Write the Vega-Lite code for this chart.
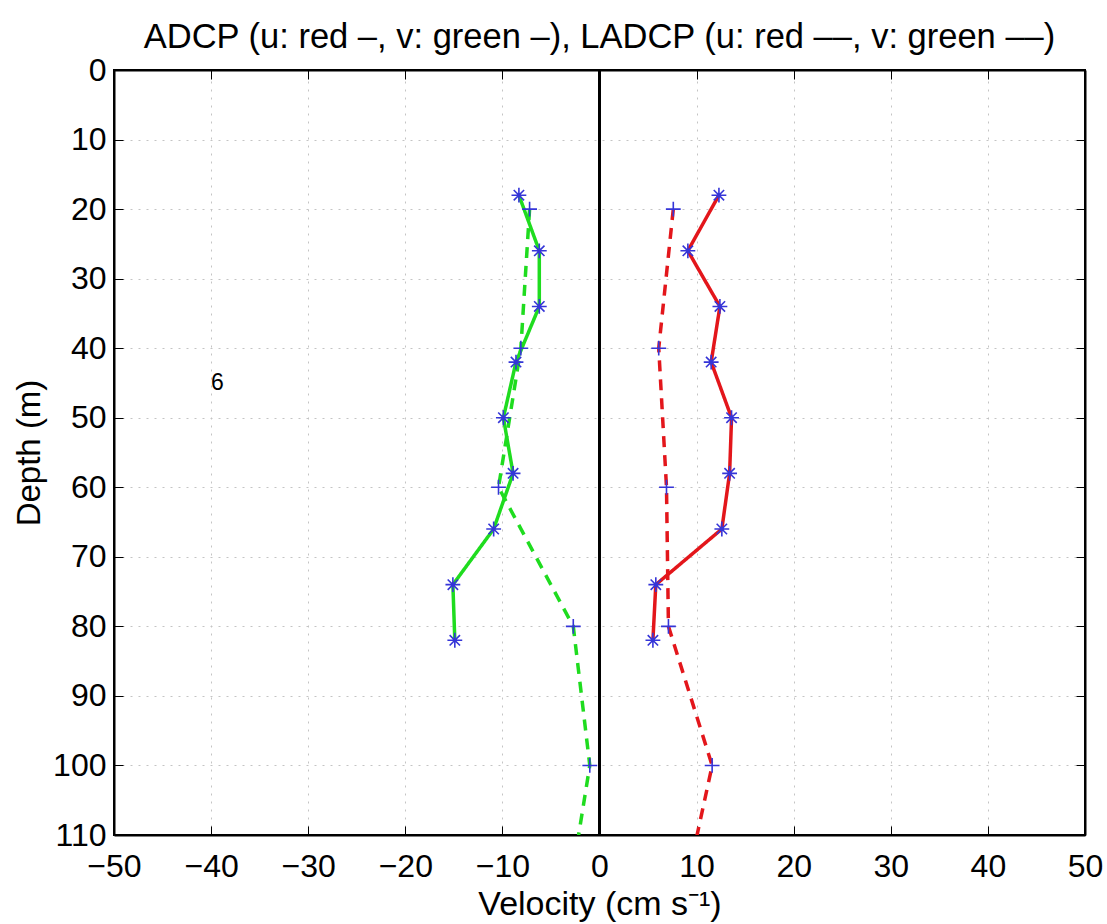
{
  "$schema": "https://vega.github.io/schema/vega-lite/v6.json",
  "autosize": "none",
  "width": 971,
  "height": 765,
  "padding": {"left": 114, "top": 70, "right": 22, "bottom": 89},
  "background": "white",
  "config": {
    "font": "Liberation Sans",
    "view": {"stroke": "black", "strokeWidth": 2},
    "axis": {
      "domain": true, "domainColor": "black", "domainWidth": 2,
      "tickColor": "black", "tickSize": -9, "tickWidth": 1,
      "labelFont": "Liberation Sans", "labelFontSize": 32, "labelColor": "black",
      "titleFont": "Liberation Sans", "titleFontWeight": "normal", "titleColor": "black",
      "gridColor": "#c4c4c4", "gridDash": [2, 6], "gridWidth": 1
    }
  },
  "title": {
    "text": "ADCP (u: red –, v: green –), LADCP (u: red ––, v: green ––)",
    "fontSize": 34.5, "fontWeight": "normal", "font": "Liberation Sans", "color": "black", "offset": -1
  },
  "datasets": {
    "profiles": [
      {"inst": "ADCP", "comp": "u", "depth": 18, "vel": 12.3},
      {"inst": "ADCP", "comp": "u", "depth": 26, "vel": 9.1},
      {"inst": "ADCP", "comp": "u", "depth": 34, "vel": 12.4},
      {"inst": "ADCP", "comp": "u", "depth": 42, "vel": 11.5},
      {"inst": "ADCP", "comp": "u", "depth": 50, "vel": 13.6},
      {"inst": "ADCP", "comp": "u", "depth": 58, "vel": 13.4},
      {"inst": "ADCP", "comp": "u", "depth": 66, "vel": 12.6},
      {"inst": "ADCP", "comp": "u", "depth": 74, "vel": 5.8},
      {"inst": "ADCP", "comp": "u", "depth": 82, "vel": 5.5},
      {"inst": "ADCP", "comp": "v", "depth": 18, "vel": -8.3},
      {"inst": "ADCP", "comp": "v", "depth": 26, "vel": -6.2},
      {"inst": "ADCP", "comp": "v", "depth": 34, "vel": -6.2},
      {"inst": "ADCP", "comp": "v", "depth": 42, "vel": -8.6},
      {"inst": "ADCP", "comp": "v", "depth": 50, "vel": -9.9},
      {"inst": "ADCP", "comp": "v", "depth": 58, "vel": -8.9},
      {"inst": "ADCP", "comp": "v", "depth": 66, "vel": -10.9},
      {"inst": "ADCP", "comp": "v", "depth": 74, "vel": -15.1},
      {"inst": "ADCP", "comp": "v", "depth": 82, "vel": -14.9},
      {"inst": "LADCP", "comp": "u", "depth": 20, "vel": 7.6},
      {"inst": "LADCP", "comp": "u", "depth": 40, "vel": 6.1},
      {"inst": "LADCP", "comp": "u", "depth": 60, "vel": 6.9},
      {"inst": "LADCP", "comp": "u", "depth": 80, "vel": 7.1},
      {"inst": "LADCP", "comp": "u", "depth": 100, "vel": 11.6},
      {"inst": "LADCP", "comp": "u", "depth": 120, "vel": 8.5},
      {"inst": "LADCP", "comp": "v", "depth": 20, "vel": -7.2},
      {"inst": "LADCP", "comp": "v", "depth": 40, "vel": -8.1},
      {"inst": "LADCP", "comp": "v", "depth": 60, "vel": -10.4},
      {"inst": "LADCP", "comp": "v", "depth": 80, "vel": -2.7},
      {"inst": "LADCP", "comp": "v", "depth": 100, "vel": -1.0},
      {"inst": "LADCP", "comp": "v", "depth": 120, "vel": -3.3}
    ],
    "labels": [{"vel": -40, "depth": 45, "label": "6"}]
  },
  "resolve": {"axis": {"x": "independent", "y": "independent"}},
  "layer": [
    {
      "data": {"name": "profiles"},
      "mark": {"type": "line", "strokeWidth": 3.5, "clip": true},
      "encoding": {
        "x": {"field": "vel", "type": "quantitative", "title": "Velocity (cm s⁻¹)",
              "scale": {"domain": [-50, 50], "nice": false, "zero": false},
              "axis": {"orient": "bottom", "values": [-50, -40, -30, -20, -10, 0, 10, 20, 30, 40, 50], "grid": true, "labelPadding": 25, "titlePadding": 5, "titleFontSize": 34, "labelFlush": false}},
        "y": {"field": "depth", "type": "quantitative", "title": "Depth (m)",
              "scale": {"domain": [0, 110], "reverse": true, "nice": false, "zero": false},
              "axis": {"orient": "left", "values": [0, 10, 20, 30, 40, 50, 60, 70, 80, 90, 100, 110], "grid": true, "labelPadding": 17, "titlePadding": 6, "titleFontSize": 33, "labelFlush": false}},
        "color": {"field": "comp", "type": "nominal", "scale": {"domain": ["u", "v"], "range": ["#e3161b", "#1fdc1f"]}, "legend": null},
        "strokeDash": {"field": "inst", "type": "nominal", "scale": {"domain": ["ADCP", "LADCP"], "range": [[1, 0], [11, 8]]}, "legend": null},
        "detail": {"field": "inst"},
        "order": {"field": "depth", "type": "quantitative"}
      }
    },
    {
      "data": {"name": "profiles"},
      "mark": {"type": "point", "filled": false, "strokeWidth": 1.6, "clip": true, "opacity": 1},
      "encoding": {
        "x": {"field": "vel", "type": "quantitative",
              "axis": {"orient": "top", "labels": false, "title": null, "grid": false, "values": [-50, -40, -30, -20, -10, 0, 10, 20, 30, 40, 50]}},
        "y": {"field": "depth", "type": "quantitative",
              "axis": {"orient": "right", "labels": false, "title": null, "grid": false, "values": [0, 10, 20, 30, 40, 50, 60, 70, 80, 90, 100, 110]}},
        "shape": {"field": "inst", "type": "nominal", "scale": {"domain": ["ADCP", "LADCP"], "range": ["M-1,0L1,0M0,-1L0,1M-0.7,-0.7L0.7,0.7M-0.7,0.7L0.7,-0.7", "M-1,0L1,0M0,-1L0,1"]}, "legend": null},
        "color": {"value": "#3535d8"},
        "size": {"value": 220}
      }
    },
    {
      "data": {"name": "labels"},
      "mark": {"type": "rule", "color": "black", "strokeWidth": 3},
      "encoding": {
        "x": {"datum": 0, "type": "quantitative", "axis": null}
      }
    },
    {
      "data": {"name": "labels"},
      "mark": {"type": "text", "align": "left", "baseline": "middle", "fontSize": 23, "font": "Liberation Sans", "color": "black"},
      "encoding": {
        "x": {"field": "vel", "type": "quantitative", "axis": null},
        "y": {"field": "depth", "type": "quantitative", "axis": null},
        "text": {"field": "label"}
      }
    }
  ]
}
